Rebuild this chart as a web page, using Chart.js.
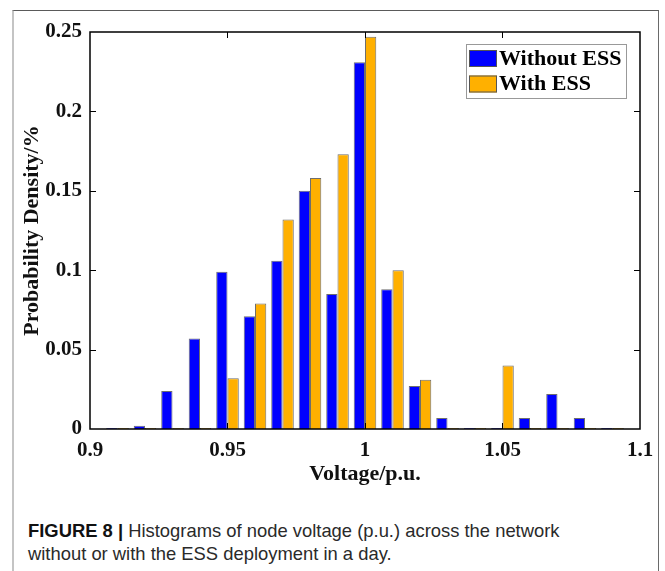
<!DOCTYPE html>
<html lang="en">
  <head>
    <meta charset="UTF-8" />
    <meta name="viewport" content="width=device-width, initial-scale=1.0" />
    <title>Node voltage histograms</title>

    <script src="https://cdn.jsdelivr.net/npm/chart.js"></script>

    <style>
      body {
        margin: 0;
        background: #ffffff;
        width: 665px;
        height: 571px;
        overflow: hidden;
        position: relative;
      }
      .frame {
        position: absolute;
        left: 12px;
        top: 10px;
        width: 644px;
        height: 580px;
        border-left: 2px solid #c4c4c4;
        border-top: 1px solid #5a5a5a;
        border-right: 1px solid #6a6a6a;
      }
      #voltageChart {
        position: absolute;
        left: 0;
        top: 0;
      }
      .caption {
        position: absolute;
        left: 28px;
        top: 520px;
        font-family: "Liberation Sans", Arial, sans-serif;
        font-size: 18.4px;
        line-height: 22.5px;
        color: #2a2a2a;
        white-space: nowrap;
      }
      .caption b {
        color: #111;
      }
    </style>
  </head>
  <body>
    <div class="frame"></div>
    <canvas id="voltageChart" width="665" height="500"></canvas>
    <div class="caption">
      <b>FIGURE 8 |</b> Histograms of node voltage (p.u.) across the network<br />
      without or with the ESS deployment in a day.
    </div>

    <script>
      // bin centres (p.u.) and probability densities
      const voltageBins = [
        0.91, 0.92, 0.93, 0.94, 0.95, 0.96, 0.97, 0.98, 0.99, 1.0, 1.01, 1.02,
        1.03, 1.04, 1.05, 1.06, 1.07, 1.08, 1.09,
      ];
      const withoutEss = [
        0, 0.002, 0.024, 0.057, 0.099, 0.071, 0.106, 0.15, 0.085, 0.231, 0.088,
        0.027, 0.007, 0, 0, 0.007, 0.022, 0.007, 0,
      ];
      const withEss = [
        0, 0, 0, 0, 0.032, 0.079, 0.132, 0.158, 0.173, 0.247, 0.1, 0.031, 0, 0,
        0.04, 0, 0, 0, 0,
      ];
      const xTicks = [0.9, 0.95, 1, 1.05, 1.1];
      const yTicks = [0, 0.05, 0.1, 0.15, 0.2, 0.25];

      const serif = "'Liberation Serif', 'Times New Roman', serif";
      const toPoints = (vals) => voltageBins.map((x, i) => ({ x, y: vals[i] }));

      // box around the plot, inward ticks and the boxed legend
      const framePlugin = {
        id: "frame",
        afterDraw(chart) {
          const { ctx, chartArea: a, scales } = chart;
          const tick = 6;
          ctx.save();
          ctx.strokeStyle = "#000";
          ctx.lineWidth = 1;
          ctx.beginPath();
          scales.x.ticks.forEach((t) => {
            if (t.value <= 0.9 || t.value >= 1.1) return;
            const px = Math.round(scales.x.getPixelForValue(t.value)) + 0.5;
            ctx.moveTo(px, a.bottom);
            ctx.lineTo(px, a.bottom - tick);
            ctx.moveTo(px, a.top);
            ctx.lineTo(px, a.top + tick);
          });
          scales.y.ticks.forEach((t) => {
            if (t.value <= 0 || t.value >= 0.25) return;
            const py = Math.round(scales.y.getPixelForValue(t.value)) + 0.5;
            ctx.moveTo(a.left, py);
            ctx.lineTo(a.left + tick, py);
            ctx.moveTo(a.right, py);
            ctx.lineTo(a.right - tick, py);
          });
          ctx.stroke();
          ctx.lineWidth = 1.5;
          ctx.strokeRect(a.left, a.top, a.right - a.left, a.bottom - a.top);

          // legend
          const lx = a.right - 174;
          const ly = a.top + 12;
          ctx.fillStyle = "#fff";
          ctx.fillRect(lx, ly, 160, 54);
          ctx.lineWidth = 1;
          ctx.strokeStyle = "#999";
          ctx.strokeRect(lx + 0.5, ly + 0.5, 160, 54);
          ctx.font = "bold 22px " + serif;
          ctx.textBaseline = "middle";
          chart.data.datasets.forEach((ds, i) => {
            const ry = ly + 6 + i * 25.5;
            ctx.fillStyle = ds.backgroundColor;
            ctx.fillRect(lx + 3, ry, 28, 17);
            ctx.strokeStyle = "#555";
            ctx.strokeRect(lx + 3.5, ry + 0.5, 27, 16);
            ctx.fillStyle = "#000";
            ctx.fillText(ds.label, lx + 33, ry + 9);
          });
          ctx.restore();
        },
      };

      const ctx = document.getElementById("voltageChart").getContext("2d");
      new Chart(ctx, {
        type: "bar",
        data: {
          datasets: [
            {
              label: "Without ESS",
              data: toPoints(withoutEss),
              backgroundColor: "#0000ff",
              borderColor: "#6e6e6e",
              borderWidth: 1,
            },
            {
              label: "With ESS",
              data: toPoints(withEss),
              backgroundColor: "#ffb000",
              borderColor: "#6e6e6e",
              borderWidth: 1,
            },
          ],
        },
        plugins: [framePlugin],
        options: {
          responsive: false,
          animation: false,
          categoryPercentage: 0.82,
          barPercentage: 1,
          minBarLength: 1,
          layout: { padding: { left: 0, top: 32, right: 25, bottom: 0 } },
          plugins: {
            legend: { display: false },
            tooltip: { enabled: false },
          },
          scales: {
            x: {
              type: "linear",
              offset: false,
              min: 0.9,
              max: 1.1,
              afterBuildTicks: (s) => {
                s.ticks = xTicks.map((v) => ({ value: v }));
              },
              afterFit: (s) => {
                s.height = 71;
              },
              grid: { display: false, drawTicks: false },
              border: { display: false },
              ticks: {
                padding: 9,
                color: "#111",
                font: { family: serif, weight: "bold", size: 21 },
                callback: (v) => String(Number(v.toFixed(2))),
              },
              title: {
                display: true,
                text: "Voltage/p.u.",
                color: "#111",
                padding: { top: 0, bottom: 12 },
                font: { family: serif, weight: "bold", size: 22 },
              },
            },
            y: {
              min: 0,
              max: 0.25,
              afterBuildTicks: (s) => {
                s.ticks = yTicks.map((v) => ({ value: v }));
              },
              afterFit: (s) => {
                s.width = 90;
              },
              grid: { display: false, drawTicks: false },
              border: { display: false },
              ticks: {
                padding: 8,
                color: "#111",
                font: { family: serif, weight: "bold", size: 21 },
                callback: (v) => String(Number(v.toFixed(2))),
              },
              title: {
                display: true,
                text: "Probability Density/%",
                color: "#111",
                padding: { top: 19, bottom: 0 },
                font: { family: serif, weight: "bold", size: 22 },
              },
            },
          },
        },
      });
    </script>
  </body>
</html>
